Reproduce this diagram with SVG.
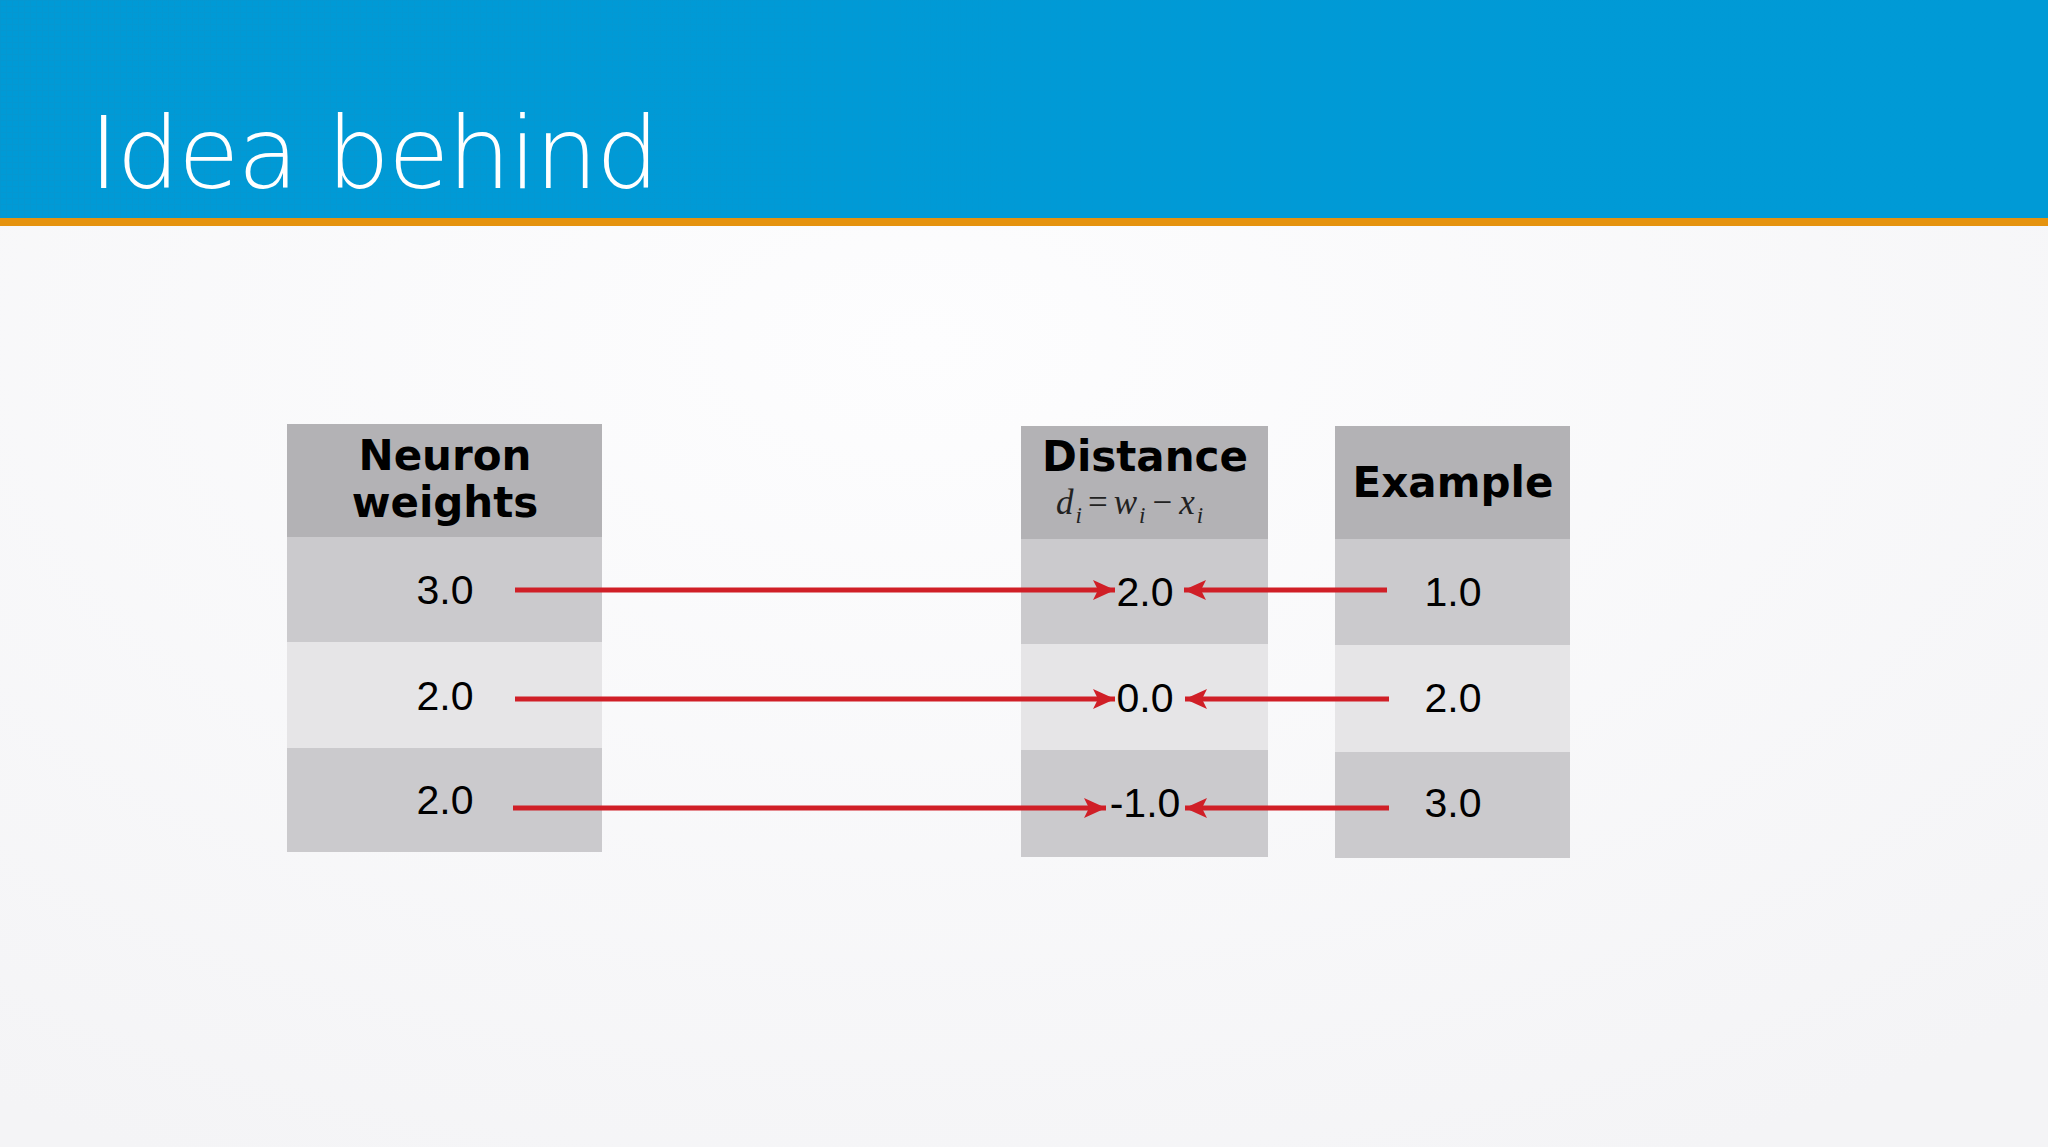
<svg xmlns="http://www.w3.org/2000/svg" width="2048" height="1147" viewBox="0 0 2048 1147">
<defs>
<radialGradient id="bg" cx="0.45" cy="0.3" r="0.8">
<stop offset="0" stop-color="#fdfdfe"/>
<stop offset="1" stop-color="#f4f4f6"/>
</radialGradient>
<pattern id="grid" width="6" height="6" patternUnits="userSpaceOnUse">
<rect width="6" height="6" fill="#009ad6"/>
<path d="M0 0.5H6M0.5 0V6" stroke="#0a94cc" stroke-width="1" opacity="0.5"/>
</pattern>
<linearGradient id="fade" x1="0" y1="0" x2="1" y2="0">
<stop offset="0" stop-color="#009ad6" stop-opacity="0"/>
<stop offset="0.5" stop-color="#009ad6" stop-opacity="0.8"/>
<stop offset="1" stop-color="#009ad6" stop-opacity="1"/>
</linearGradient>
<marker id="ah" viewBox="0 0 22 20" refX="22" refY="10" markerWidth="22" markerHeight="20" markerUnits="userSpaceOnUse" orient="auto">
<path d="M0 0L22 10L0 20L5 10Z" fill="#d01f27"/>
</marker>
<style>
.hd{fill:#b3b2b5}
.dk{fill:#cbcacd}
.lt{fill:#e6e5e7}
.ht{font-family:"DejaVu Sans",sans-serif;font-weight:bold;font-size:42px;fill:#000;text-anchor:middle}
.num{font-family:"Liberation Sans",Arial,sans-serif;font-size:41px;fill:#000;text-anchor:middle}
.ar{stroke:#d01f27;stroke-width:5;fill:none;marker-end:url(#ah)}
.fm{font-family:"Liberation Serif","Times New Roman",serif;font-style:italic;font-size:35px;fill:#222}
</style>
</defs>
<rect width="2048" height="1147" fill="url(#bg)"/>
<rect width="2048" height="218" fill="url(#grid)"/>
<rect width="2048" height="218" fill="url(#fade)"/>
<rect y="218" width="2048" height="8" fill="#e5930f"/>
<text x="89" y="188" font-family="DejaVu Sans, sans-serif" font-weight="200" font-size="100" fill="#ffffff" letter-spacing="-2">Idea behind</text>

<g id="neuron-weights">
<rect class="hd" x="287" y="424" width="315" height="113"/>
<rect class="dk" x="287" y="537" width="315" height="105"/>
<rect class="lt" x="287" y="642" width="315" height="106"/>
<rect class="dk" x="287" y="748" width="315" height="104"/>
<text class="ht" x="445" y="470">Neuron</text>
<text class="ht" x="445" y="517">weights</text>
<text class="num" x="445" y="604">3.0</text>
<text class="num" x="445" y="710">2.0</text>
<text class="num" x="445" y="814">2.0</text>
</g>

<g id="distance">
<rect class="hd" x="1021" y="426" width="247" height="113"/>
<rect class="dk" x="1021" y="539" width="247" height="105"/>
<rect class="lt" x="1021" y="644" width="247" height="106"/>
<rect class="dk" x="1021" y="750" width="247" height="107"/>
<text class="ht" x="1145" y="471">Distance</text>
<text class="fm" x="1056" y="514">d<tspan font-size="23" dx="2" dy="9">i</tspan><tspan font-style="normal" dx="6" dy="-9">=</tspan><tspan dx="6">w</tspan><tspan font-size="23" dx="2" dy="9">i</tspan><tspan font-style="normal" dx="7" dy="-9">−</tspan><tspan dx="7">x</tspan><tspan font-size="23" dx="2" dy="9">i</tspan></text>
<text class="num" x="1145" y="606">2.0</text>
<text class="num" x="1145" y="712">0.0</text>
<text class="num" x="1145" y="817">-1.0</text>
</g>

<g id="example">
<rect class="hd" x="1335" y="426" width="235" height="113"/>
<rect class="dk" x="1335" y="539" width="235" height="106"/>
<rect class="lt" x="1335" y="645" width="235" height="107"/>
<rect class="dk" x="1335" y="752" width="235" height="106"/>
<text class="ht" x="1453" y="497">Example</text>
<text class="num" x="1453" y="606">1.0</text>
<text class="num" x="1453" y="712">2.0</text>
<text class="num" x="1453" y="817">3.0</text>
</g>

<g id="connectors">
<line class="ar" x1="515" y1="590" x2="1115" y2="590"/>
<line class="ar" x1="515" y1="699" x2="1115" y2="699"/>
<line class="ar" x1="513" y1="808" x2="1106" y2="808"/>
<line class="ar" x1="1387" y1="590" x2="1184" y2="590"/>
<line class="ar" x1="1389" y1="699" x2="1185" y2="699"/>
<line class="ar" x1="1389" y1="808" x2="1185" y2="808"/>
</g>
</svg>
